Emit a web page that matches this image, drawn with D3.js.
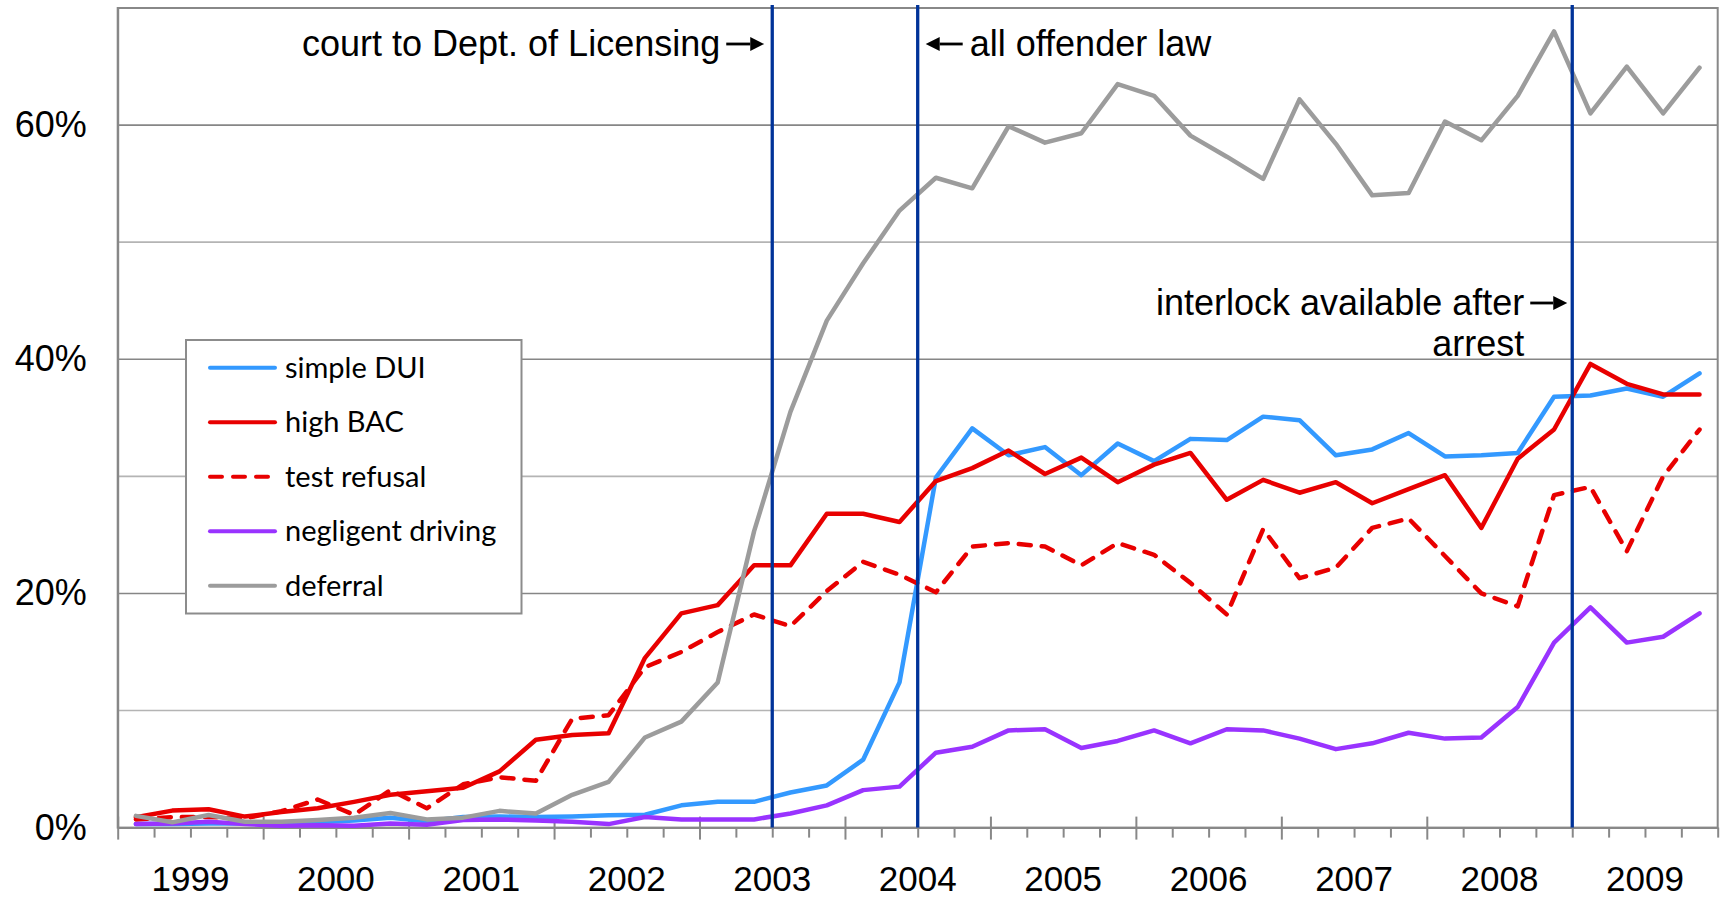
<!DOCTYPE html>
<html>
<head>
<meta charset="utf-8">
<script src="https://cdn.jsdelivr.net/npm/d3@7"></script>
<style>
  html, body { margin: 0; padding: 0; background: #fff; }
  svg { display: block; }
  .axis-label, .note { font-family: "Liberation Sans", Arial, sans-serif; font-size: 36px; fill: #000; }
  .year-label { font-family: "Liberation Sans", Arial, sans-serif; font-size: 35px; fill: #000; }
  .legend-text { font-family: Lato, "Open Sans", sans-serif; font-size: 29px; fill: #000; }
</style>
</head>
<body>
<svg id="chart"></svg>
<script>
// quarterly share of cases, 1999 Q1 .. 2009 Q4 (percent)
const years = [1999, 2000, 2001, 2002, 2003, 2004, 2005, 2006, 2007, 2008, 2009];
const quarters = ["Q1", "Q2", "Q3", "Q4"];

const simpleDUI = [0.3, 0.3, 0.35, 0.35, 0.4, 0.45, 0.6, 0.85, 0.55, 0.9, 0.95, 0.9,
  0.95, 1.05, 1.1, 1.9, 2.2, 2.2, 3.0, 3.6, 5.8, 12.4, 29.9, 34.1,
  31.8, 32.5, 30.1, 32.8, 31.3, 33.2, 33.1, 35.1, 34.8, 31.8, 32.3, 33.7,
  31.7, 31.8, 32.0, 36.8, 36.9, 37.5, 36.8, 38.8];
const highBAC = [0.88, 1.45, 1.57, 0.94, 1.34, 1.65, 2.2, 2.8, 3.1, 3.4, 4.8, 7.5,
  7.9, 8.05, 14.5, 18.3, 19.0, 22.4, 22.4, 26.8, 26.8, 26.1, 29.6, 30.7,
  32.2, 30.2, 31.6, 29.5, 31.0, 32.0, 28.0, 29.7, 28.6, 29.5, 27.7, 28.9,
  30.1, 25.6, 31.5, 34.0, 39.6, 37.9, 37.0, 37.0];
const testRefusal = [0.7, 0.9, 0.9, 0.8, 1.4, 2.4, 1.1, 3.2, 1.65, 3.7, 4.3, 4.0,
  9.3, 9.6, 13.7, 15.0, 16.7, 18.2, 17.2, 20.2, 22.7, 21.6, 20.1, 24.0,
  24.3, 24.0, 22.4, 24.3, 23.3, 20.9, 18.2, 25.5, 21.3, 22.2, 25.6, 26.4,
  23.2, 20.0, 18.9, 28.4, 29.1, 23.6, 30.0, 34.0];
const negligentDriving = [0.3, 0.35, 0.5, 0.3, 0.15, 0.2, 0.15, 0.35, 0.25, 0.65, 0.7, 0.6,
  0.5, 0.3, 0.9, 0.7, 0.7, 0.7, 1.2, 1.9, 3.2, 3.5, 6.4, 6.9,
  8.3, 8.4, 6.8, 7.4, 8.3, 7.2, 8.4, 8.3, 7.6, 6.7, 7.2, 8.1,
  7.6, 7.7, 10.3, 15.8, 18.8, 15.8, 16.3, 18.3];
const deferral = [1.0, 0.45, 1.08, 0.5, 0.5, 0.65, 0.85, 1.25, 0.7, 0.85, 1.43, 1.2,
  2.8, 3.9, 7.7, 9.05, 12.4, 25.3, 35.5, 43.3, 48.2, 52.7, 55.5, 54.6,
  59.9, 58.5, 59.3, 63.5, 62.5, 59.1, 57.3, 55.4, 62.2, 58.4, 54.0, 54.2,
  60.3, 58.7, 62.5, 68.0, 61.0, 65.0, 61.0, 64.9];

const yTicks = [0, 20, 40, 60];
const gridValues = [10, 20, 30, 40, 50, 60];

// law changes, as decimal years
const eventDates = [2003.5, 2004.5, 2009];

const series = [
  { name: "simple DUI", values: simpleDUI, color: "#3399ff", dash: null },
  { name: "high BAC", values: highBAC, color: "#e80000", dash: null },
  { name: "test refusal", values: testRefusal, color: "#e80000", dash: "12,11" },
  { name: "negligent driving", values: negligentDriving, color: "#9933ff", dash: null },
  { name: "deferral", values: deferral, color: "#9c9c9c", dash: null }
];

const width = 1723, height = 899;
const plot = { left: 117.7, right: 1717.7, top: 8, bottom: 827.6 };

const svg = d3.select("#chart")
  .attr("width", width)
  .attr("height", height);

const x = d3.scaleLinear()
  .domain([years[0], years[years.length - 1] + 1])
  .range([plot.left, plot.right]);

const y = d3.scaleLinear()
  .domain([0, 70])
  .range([plot.bottom, plot.top]);

const quarterTime = i => years[0] + (i + 0.5) / quarters.length;

// gridlines
svg.append("g")
  .selectAll("line")
  .data(gridValues)
  .enter()
  .append("line")
  .attr("x1", plot.left)
  .attr("x2", plot.right)
  .attr("y1", d => y(d))
  .attr("y2", d => y(d))
  .attr("stroke", d => d % 20 === 0 ? "#868686" : "#b4b4b4")
  .attr("stroke-width", 1.6);

// plot border
svg.append("rect")
  .attr("x", plot.left)
  .attr("y", y(70))
  .attr("width", plot.right - plot.left)
  .attr("height", y(0) - y(70))
  .attr("fill", "none")
  .attr("stroke", "#888")
  .attr("stroke-width", 2);

// y axis labels
const yAxis = svg.append("g")
  .attr("transform", `translate(${plot.left},0)`)
  .call(d3.axisLeft(y).tickValues(yTicks).tickSize(0).tickPadding(31).tickFormat(d => d + "%"));
yAxis.attr("font-size", null).attr("font-family", null);
yAxis.select(".domain").attr("stroke", "#888").attr("stroke-width", 2);
yAxis.selectAll("text").attr("class", "axis-label");

// x axis with quarter ticks
const quarterTicks = d3.range(0, years.length * quarters.length + 1).map(i => years[0] + i / quarters.length);
const xAxis = svg.append("g")
  .attr("transform", `translate(0,${y(0)})`)
  .call(d3.axisBottom(x).tickValues(quarterTicks).tickSizeInner(10).tickSizeOuter(0).tickFormat(""));
xAxis.select(".domain").attr("stroke", "#888").attr("stroke-width", 2);
xAxis.selectAll(".tick line")
  .attr("stroke", "#888")
  .attr("stroke-width", 2)
  .filter(d => Number.isInteger(d) && d < years[years.length - 1])
  .attr("y1", -11)
  .attr("y2", 12);

svg.append("g")
  .selectAll("text")
  .data(years)
  .enter()
  .append("text")
  .attr("class", "year-label")
  .attr("x", d => x(d + 0.5))
  .attr("y", 891)
  .attr("text-anchor", "middle")
  .text(d => d);

// series
const line = d3.line()
  .x((d, i) => x(quarterTime(i)))
  .y(d => y(d));

svg.append("g")
  .selectAll("path")
  .data(series)
  .enter()
  .append("path")
  .attr("d", d => line(d.values))
  .attr("fill", "none")
  .attr("stroke", d => d.color)
  .attr("stroke-width", 4.5)
  .attr("stroke-linejoin", "round")
  .attr("stroke-linecap", "round")
  .attr("stroke-dasharray", d => d.dash);

// event lines
svg.append("g")
  .selectAll("line")
  .data(eventDates)
  .enter()
  .append("line")
  .attr("x1", d => x(d))
  .attr("x2", d => x(d))
  .attr("y1", 5)
  .attr("y2", y(0))
  .attr("stroke", "#003399")
  .attr("stroke-width", 3.3);

function arrow(x1, x2, yy) {
  const dir = x2 > x1 ? 1 : -1;
  const head = 14;
  svg.append("line")
    .attr("x1", x1).attr("x2", x2 - dir * head)
    .attr("y1", yy).attr("y2", yy)
    .attr("stroke", "#000").attr("stroke-width", 2.8);
  svg.append("path")
    .attr("d", `M${x2},${yy} L${x2 - dir * head},${yy - 7} L${x2 - dir * head},${yy + 7} Z`)
    .attr("fill", "#000");
}

const xCourt = x(eventDates[0]), xAll = x(eventDates[1]), xLock = x(eventDates[2]);

svg.append("text").attr("class", "note")
  .attr("x", xCourt - 52).attr("y", 56).attr("text-anchor", "end")
  .text("court to Dept. of Licensing");
arrow(xCourt - 46, xCourt - 8, 44);

svg.append("text").attr("class", "note")
  .attr("x", xAll + 52).attr("y", 56)
  .text("all offender law");
arrow(xAll + 45, xAll + 8, 44);

svg.append("text").attr("class", "note")
  .attr("x", xLock - 48).attr("y", 315).attr("text-anchor", "end")
  .text("interlock available after");
svg.append("text").attr("class", "note")
  .attr("x", xLock - 48).attr("y", 356).attr("text-anchor", "end")
  .text("arrest");
arrow(xLock - 42, xLock - 5, 303);

// legend
const legend = svg.append("g").attr("id", "legend");
legend.append("rect")
  .attr("x", 186)
  .attr("y", 340)
  .attr("width", 335.5)
  .attr("height", 273.5)
  .attr("fill", "#fff")
  .attr("stroke", "#8c8c8c")
  .attr("stroke-width", 2);

const items = legend.selectAll(".item")
  .data(series)
  .enter()
  .append("g")
  .attr("class", "item")
  .attr("transform", (d, i) => `translate(0, ${367.7 + i * 54.5})`);

items.append("line")
  .attr("x1", 210)
  .attr("x2", 275)
  .attr("stroke", d => d.color)
  .attr("stroke-width", 4)
  .attr("stroke-linecap", "round")
  .attr("stroke-dasharray", d => d.dash);

items.append("text")
  .attr("class", "legend-text")
  .attr("x", 285)
  .attr("dy", "0.35em")
  .text(d => d.name);
</script>
</body>
</html>
